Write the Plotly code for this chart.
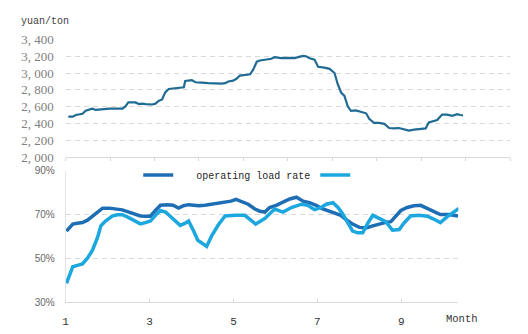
import plotly.graph_objects as go

# ---- top panel: price (yuan/ton), x in tick-interval units (0..10)
price_x = [0.06,0.16,0.23,0.31,0.38,0.45,0.53,0.60,0.68,0.75,0.83,0.90,0.98,1.13,1.28,1.35,1.41,1.50,1.57,1.65,
           1.72,1.80,1.87,1.95,2.02,2.10,2.17,2.24,2.32,2.39,2.47,2.54,2.66,2.69,2.77,2.84,2.92,2.99,3.06,3.21,
           3.36,3.51,3.59,3.66,3.77,3.85,3.92,4.03,4.15,4.22,4.30,4.37,4.48,4.56,4.63,4.70,4.85,5.00,5.15,5.23,
           5.34,5.41,5.49,5.60,5.68,5.82,5.94,6.05,6.12,6.20,6.27,6.35,6.42,6.53,6.64,6.76,6.83,6.94,7.05,7.17,
           7.28,7.39,7.50,7.61,7.72,7.84,7.99,8.10,8.17,8.25,8.36,8.47,8.58,8.70,8.81,8.88,8.94]
price = [2480,2480,2500,2510,2515,2550,2565,2575,2560,2565,2565,2575,2575,2575,2575,2605,2650,2650,2650,2630,
         2635,2630,2625,2625,2635,2670,2685,2770,2810,2815,2820,2825,2830,2905,2915,2915,2890,2885,2885,2880,
         2875,2875,2880,2900,2910,2935,2970,2975,2985,3040,3135,3150,3155,3165,3170,3190,3177,3180,3177,3190,
         3205,3200,3177,3160,3075,3065,3050,3000,2870,2765,2730,2600,2550,2555,2540,2520,2455,2405,2405,2395,
         2345,2340,2345,2330,2315,2325,2330,2340,2410,2425,2440,2505,2505,2490,2510,2500,2495]
price_ticks = [2000, 2200, 2400, 2600, 2800, 3000, 3200, 3400]
price_ticktext = ["2, 000", "2, 200", "2, 400", "2, 600", "2, 800", "3, 000", "3, 200", "3, 400"]

# ---- bottom panel: operating load rate (%), x in months
month_dark = [1.02,1.17,1.28,1.40,1.52,1.64,1.76,1.88,2.04,2.19,2.35,2.51,2.67,2.78,2.90,3.02,3.14,3.26,3.42,3.56,
              3.69,3.81,3.93,4.05,4.17,4.32,4.48,4.64,4.80,4.94,5.06,5.19,5.35,5.51,5.63,5.75,5.86,6.02,6.18,6.34,
              6.50,6.66,6.81,6.97,7.13,7.33,7.45,7.56,7.68,7.84,8.00,8.16,8.32,8.47,8.63,8.75,8.87,8.99,9.14,9.30,
              9.46,9.62,9.77,9.93,10.13,10.35]
rate_dark = [62.5,65.7,66.1,66.4,67.5,69.3,71.2,73.0,73.0,72.6,72.2,71.2,70.0,69.4,69.3,69.3,71.9,74.3,74.5,74.3,
             73.0,74.1,74.6,74.3,74.1,74.3,74.8,75.5,75.8,76.2,77.0,76.2,74.8,72.6,71.6,71.2,73.3,74.3,75.8,77.2,
             78.0,76.2,75.5,74.3,72.6,71.2,70.4,69.7,67.8,65.7,64.2,63.9,64.9,65.8,66.5,66.8,69.3,71.9,73.3,74.1,
             74.3,72.9,71.2,70.1,70.1,69.4]
month_light = [1.02,1.09,1.17,1.28,1.40,1.52,1.64,1.76,1.84,1.95,2.11,2.23,2.35,2.47,2.63,2.78,2.90,3.02,3.14,3.26,
               3.38,3.50,3.61,3.73,3.85,3.93,4.05,4.15,4.36,4.48,4.64,4.80,5.04,5.27,5.53,5.75,5.98,6.18,6.38,6.62,
               6.77,6.93,7.09,7.21,7.37,7.49,7.60,7.72,7.84,7.96,8.08,8.20,8.32,8.47,8.63,8.79,8.95,9.06,9.22,9.42,
               9.62,9.77,9.93,10.09,10.25,10.37]
rate_light = [38.6,42.2,46.2,46.8,47.5,50.1,53.8,59.6,64.9,67.1,69.4,70.0,70.0,69.0,67.2,65.8,66.4,67.1,69.7,71.9,
              71.2,69.0,66.8,65.1,66.1,67.1,62.5,58.3,55.5,60.3,65.4,69.4,69.7,69.7,65.7,68.3,72.6,71.2,73.3,74.8,
              74.3,72.3,73.3,74.8,75.5,73.3,70.4,66.8,62.5,61.7,61.7,66.1,69.7,68.3,66.8,62.9,63.2,66.1,69.4,69.7,
              69.3,68.0,66.4,69.0,71.2,72.9]
rate_ticks = [30, 50, 70, 90]
rate_ticktext = ["30%", "50%", "70%", "90%"]
month_ticks = [1, 3, 5, 7, 9]
month_ticktext = ["1", "3", "5", "7", "9"]
legend_name = "operating load rate"

W, H = 528, 334
MONO = "Liberation Mono"
SERIF = "Liberation Serif"
GRID = "#d9d9d9"

fig = go.Figure()
fig.add_trace(go.Scatter(x=price_x, y=price, mode="lines", showlegend=False,
                         line=dict(color="#1f6b93", width=2.2), xaxis="x", yaxis="y"))
fig.add_trace(go.Scatter(x=month_dark, y=rate_dark, mode="lines",
                         name="\u00a0\u00a0\u00a0" + legend_name,
                         line=dict(color="#1e6eb6", width=3.5), xaxis="x2", yaxis="y2"))
fig.add_trace(go.Scatter(x=month_light, y=rate_light, mode="lines", name="\u00a0",
                         line=dict(color="#1ca7df", width=3.5), xaxis="x2", yaxis="y2"))

fig.update_layout(
    width=W, height=H,
    margin=dict(l=0, r=0, t=0, b=0),
    paper_bgcolor="white", plot_bgcolor="white",
    font=dict(family=MONO, size=11, color="#333333"),
    xaxis=dict(domain=[63 / W, 510 / W], range=[0, 10], anchor="y",
               tickvals=list(range(11)), showticklabels=False,
               ticks="outside", ticklen=3, tickcolor=GRID,
               showline=True, linecolor=GRID, showgrid=False, zeroline=False),
    yaxis=dict(domain=[1 - 157 / H, 1 - 34 / H], range=[2000, 3400], anchor="x",
               tickvals=price_ticks, ticktext=price_ticktext,
               tickfont=dict(family=SERIF, size=13, color="#7f7f7f"),
               showgrid=True, gridcolor=GRID, griddash="5px,4px", gridwidth=1,
               showline=False, zeroline=False, ticks="", ticklabelstandoff=11),
    xaxis2=dict(domain=[63 / W, 458 / W], range=[1, 10.36], anchor="y2",
                tickvals=month_ticks, ticktext=month_ticktext,
                tickfont=dict(family=MONO, size=11, color="#333333"),
                ticks="inside", ticklen=3, tickcolor=GRID,
                showline=True, linecolor=GRID, showgrid=False, zeroline=False,
                ticklabelstandoff=9),
    yaxis2=dict(domain=[1 - 309 / H, 1 - 171.7 / H], range=[30, 90], anchor="x2",
                tickvals=rate_ticks, ticktext=rate_ticktext,
                tickfont=dict(family="Liberation Sans", size=10, color="#666666"),
                showgrid=True, gridcolor=GRID, griddash="5px,4px", gridwidth=1,
                showline=True, linecolor="#e3e3e3", zeroline=False, ticks="",
                ticklabelstandoff=8),
    legend=dict(orientation="h", x=136 / W, y=1 - 176 / H, xanchor="left", yanchor="middle",
                bgcolor="rgba(0,0,0,0)", font=dict(family=MONO, size=10, color="#262626"),
                itemwidth=30),
    annotations=[
        dict(text="yuan/ton", x=16 / W, y=1 - 15 / H, xref="paper", yref="paper",
             xanchor="left", yanchor="middle", showarrow=False,
             font=dict(family=MONO, size=10, color="#404040")),
        dict(text="Month", x=444 / W, y=1 - 327 / H, xref="paper", yref="paper",
             xanchor="left", yanchor="middle", showarrow=False,
             font=dict(family=MONO, size=10.5, color="#333333")),
    ],
)

fig.write_html("out.html")
